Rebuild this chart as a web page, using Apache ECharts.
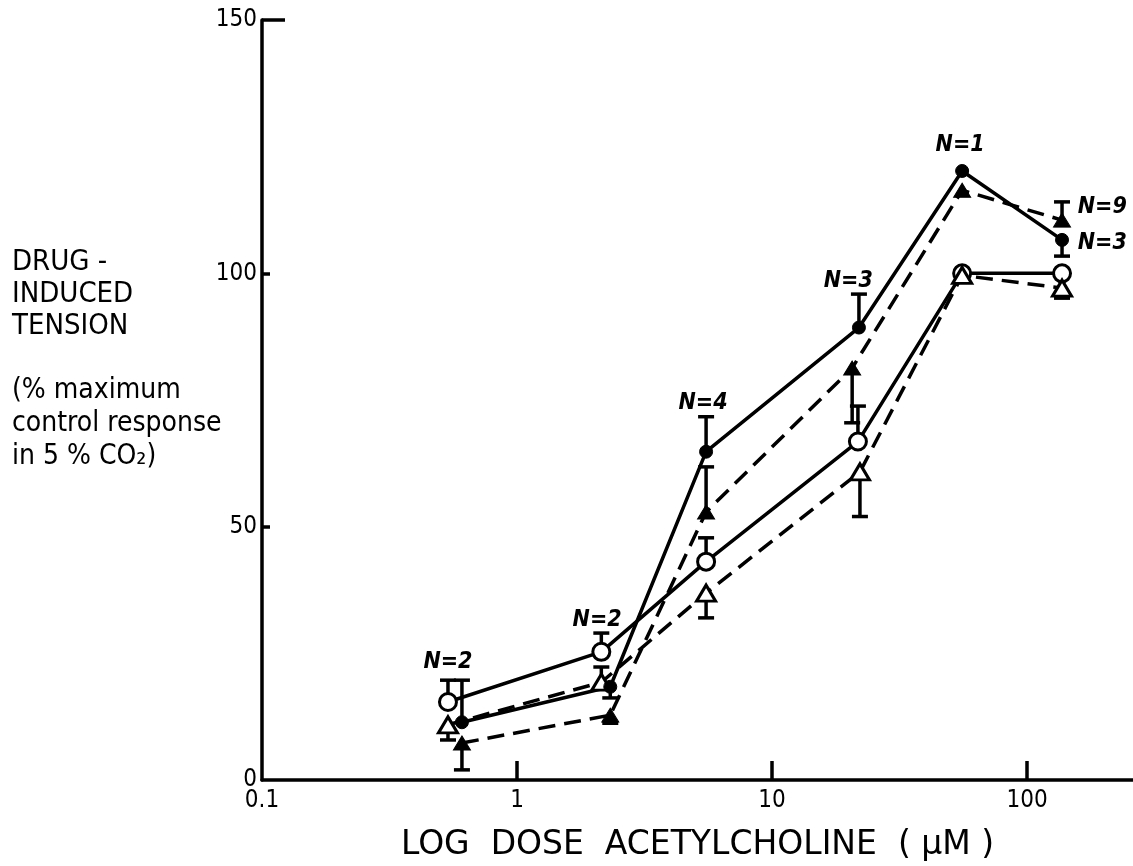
<!DOCTYPE html>
<html>
<head>
<meta charset="utf-8">
<script src="https://cdn.jsdelivr.net/npm/echarts@6/dist/echarts.min.js"></script>
<style>
  html, body { margin: 0; padding: 0; background: #fff; }
  #chart { width: 1133px; height: 866px; }
</style>
</head>
<body>
<div id="chart"></div>
<script>
// Dose-response of drug-induced tension to acetylcholine (log dose, µM).
// Four curves; each has its dose, mean tension and the end of its one-sided SE bar.
const doseOpenCircle      = [0.536, 2.14, 5.51, 21.7, 55.6, 137];
const tensionOpenCircle   = [15.4, 25.3, 43.1, 66.8, 100, 100];
const errEndOpenCircle    = [19.7, 29.0, 47.8, 73.8, null, null];

const doseOpenTriangle    = [0.536, 2.14, 5.51, 22.1, 55.6, 137];
const tensionOpenTriangle = [10.9, 19.3, 36.9, 60.8, 99.6, 97.1];
const errEndOpenTriangle  = [7.9, 22.3, 32.0, 52.0, null, 95.1];

const doseFilledCircle    = [0.608, 2.32, 5.51, 21.9, 55.6, 137];
const tensionFilledCircle = [11.4, 18.4, 64.8, 89.3, 120.2, 106.6];
const errEndFilledCircle  = [19.7, 16.2, 71.7, 95.9, null, 103.4];

const doseFilledTriangle    = [0.608, 2.32, 5.51, 20.6, 55.6, 137];
const tensionFilledTriangle = [7.3, 12.8, 52.9, 81.3, 116.4, 110.5];
const errEndFilledTriangle  = [2.0, 11.2, 61.8, 70.5, null, 114.1];

// Sample-size annotations, anchored in data units
const nLabelText    = ['N=2', 'N=2', 'N=4', 'N=3', 'N=1', 'N=9', 'N=3'];
const nLabelDose    = [0.536, 2.06, 5.36, 19.9, 54.6, 197, 197];
const nLabelTension = [23.3, 31.6, 74.4, 98.5, 125.3, 113.1, 106.0];

const xTickValues = [0.1, 1, 10, 100];
const xTickLabels = ['0.1', '1', '10', '100'];

const FONT = '"DejaVu Sans Condensed", "DejaVu Sans", sans-serif';
const WIDE_FONT = '"DejaVu Sans", sans-serif';
const INK = '#000';

function pairs(xs, ys) {
  return xs.map((x, i) => [x, ys[i]]);
}
function errTriples(xs, ys, ends) {
  const out = [];
  xs.forEach((x, i) => { if (ends[i] != null) out.push([x, ys[i], ends[i]]); });
  return out;
}

// One-sided error bar: stem from the mean to the end value, with a cap at the end
function errorBarItem(params, api) {
  const p = api.coord([api.value(0), api.value(1)]);
  const q = api.coord([api.value(0), api.value(2)]);
  const cap = 8;
  const st = { stroke: INK, lineWidth: 3.5 };
  return {
    type: 'group',
    children: [
      { type: 'line', shape: { x1: p[0], y1: p[1], x2: q[0], y2: q[1] }, style: st },
      { type: 'line', shape: { x1: q[0] - cap, y1: q[1], x2: q[0] + cap, y2: q[1] }, style: st }
    ]
  };
}

function errorSeries(xs, ys, ends) {
  return {
    type: 'custom',
    renderItem: errorBarItem,
    data: errTriples(xs, ys, ends),
    encode: { x: 0, y: [1, 2] },
    z: 2,
    silent: true
  };
}

function curve(xs, ys, opts) {
  return {
    type: 'line',
    data: pairs(xs, ys),
    symbol: opts.symbol,
    symbolSize: opts.size,
    showSymbol: true,
    lineStyle: { color: INK, width: 3.5, type: opts.dashed ? [17, 9] : 'solid' },
    itemStyle: { color: opts.filled ? INK : '#fff', borderColor: INK, borderWidth: opts.filled ? 1 : 3 },
    z: 3,
    animation: false
  };
}

const chart = echarts.init(document.getElementById('chart'), null, { renderer: 'canvas' });

chart.setOption({
  backgroundColor: '#fff',
  animation: false,
  grid: { left: 262, right: 0, top: 20, bottom: 86, outerBoundsMode: 'none', containLabel: false },
  xAxis: {
    type: 'log',
    logBase: 10,
    min: 0.1,
    max: 260,
    name: 'LOG  DOSE  ACETYLCHOLINE  ( μM )',
    nameLocation: 'middle',
    nameGap: 49,
    nameTextStyle: { color: INK, fontFamily: WIDE_FONT, fontSize: 33 },
    axisLine: { lineStyle: { color: INK, width: 3.5 } },
    axisTick: { inside: true, length: 19, lineStyle: { color: INK, width: 3.5 }, customValues: [1, 10, 100] },
    axisLabel: {
      color: INK, fontFamily: FONT, fontSize: 24, margin: 9,
      formatter: v => {
        const i = xTickValues.findIndex(t => Math.abs(Math.log10(t) - Math.log10(v)) < 1e-6);
        return i >= 0 ? xTickLabels[i] : '';
      }
    },
    splitLine: { show: false },
    minorTick: { show: false }
  },
  yAxis: [
    {
      type: 'value',
      min: 0, max: 150, interval: 50,
      axisLine: { show: true, lineStyle: { color: INK, width: 3.5 } },
      axisTick: { show: true, inside: true, length: 8, lineStyle: { color: INK, width: 3.5 }, customValues: [50, 100] },
      axisLabel: { color: INK, fontFamily: FONT, fontSize: 24, margin: 5 },
      splitLine: { show: false }
    },
    {
      // longer top tick at 150
      type: 'value',
      min: 0, max: 150, interval: 50,
      position: 'left',
      axisLine: { show: false },
      axisTick: { show: true, inside: true, length: 23, lineStyle: { color: INK, width: 3.5 }, customValues: [150] },
      axisLabel: { show: false },
      splitLine: { show: false }
    }
  ],
  series: [
    errorSeries(doseOpenCircle, tensionOpenCircle, errEndOpenCircle),
    errorSeries(doseOpenTriangle, tensionOpenTriangle, errEndOpenTriangle),
    errorSeries(doseFilledCircle, tensionFilledCircle, errEndFilledCircle),
    errorSeries(doseFilledTriangle, tensionFilledTriangle, errEndFilledTriangle),
    curve(doseOpenCircle, tensionOpenCircle, { symbol: 'circle', size: 17, filled: false, dashed: false }),
    curve(doseOpenTriangle, tensionOpenTriangle, { symbol: 'triangle', size: [19, 16], filled: false, dashed: true }),
    curve(doseFilledCircle, tensionFilledCircle, { symbol: 'circle', size: 13, filled: true, dashed: false }),
    curve(doseFilledTriangle, tensionFilledTriangle, { symbol: 'triangle', size: [17, 14], filled: true, dashed: true }),
    {
      type: 'scatter',
      data: nLabelDose.map((d, i) => ({ value: [d, nLabelTension[i]], name: nLabelText[i] })),
      symbolSize: 0,
      itemStyle: { color: INK },
      label: {
        show: true, position: 'inside', formatter: p => p.name,
        color: INK, fontFamily: FONT, fontStyle: 'italic', fontWeight: 'bold', fontSize: 23,
        textBorderWidth: 0, opacity: 1
      },
      z: 4,
      silent: true
    }
  ],
  graphic: [
    {
      type: 'text', left: 12, top: 246,
      style: { text: 'DRUG -\nINDUCED\nTENSION', font: '29px ' + FONT, lineHeight: 32, fill: INK }
    },
    {
      type: 'text', left: 12, top: 374,
      style: { text: '(% maximum\ncontrol response\nin 5 % CO₂)', font: '28px ' + FONT, lineHeight: 33, fill: INK }
    }
  ]
});
</script>
</body>
</html>
